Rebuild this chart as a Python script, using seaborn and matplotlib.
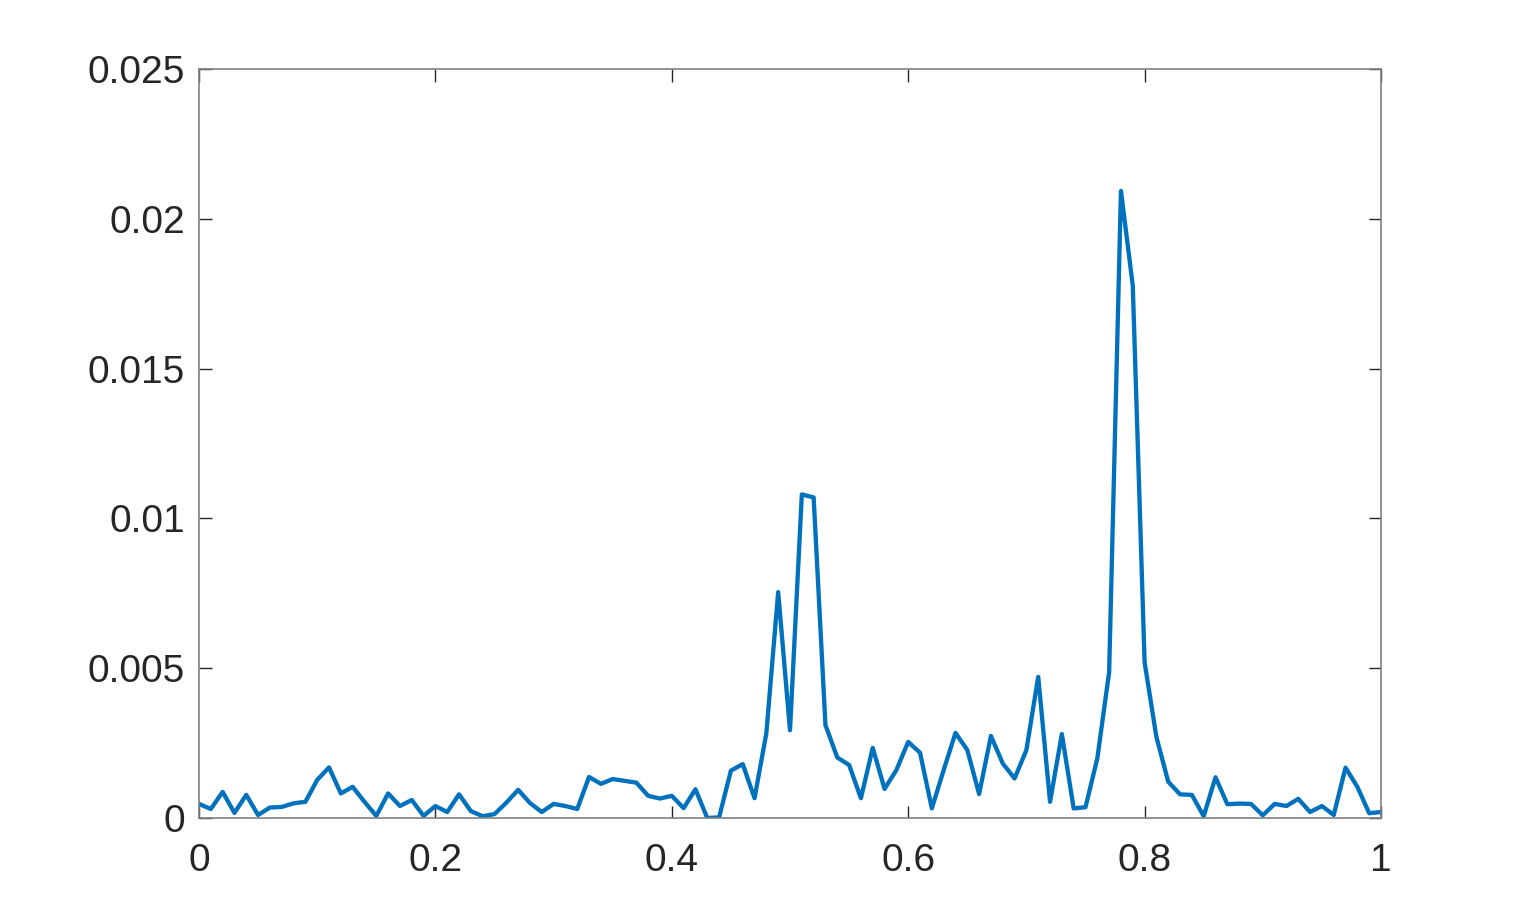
import numpy as np
import pandas as pd
import matplotlib
matplotlib.use("Agg")
import matplotlib.pyplot as plt
import seaborn as sns

x_vals = [round(i * 0.01, 2) for i in range(101)]
y_vals = [
    0.00047, 0.00030, 0.00087, 0.00017, 0.00077, 0.00010, 0.00035, 0.00037, 0.00049, 0.00054,
    0.00127, 0.00169, 0.00082, 0.00104, 0.00054, 0.00007, 0.00082, 0.00040, 0.00060, 0.00007,
    0.00040, 0.00020, 0.00079, 0.00023, 0.00006, 0.00013, 0.00051, 0.00094, 0.00050, 0.00020,
    0.00047, 0.00040, 0.00030, 0.00137, 0.00114, 0.00130, 0.00124, 0.00118, 0.00074, 0.00065,
    0.00074, 0.00033, 0.00096, 0.00000, 0.00002, 0.00158, 0.00180, 0.00066, 0.00283, 0.00754,
    0.00293, 0.01080, 0.01070, 0.00310, 0.00202, 0.00177, 0.00066, 0.00234, 0.00097, 0.00160,
    0.00254, 0.00218, 0.00032, 0.00160, 0.00284, 0.00227, 0.00080, 0.00274, 0.00182, 0.00132,
    0.00227, 0.00471, 0.00054, 0.00280, 0.00032, 0.00036, 0.00199, 0.00487, 0.02093, 0.01777,
    0.00520, 0.00270, 0.00121, 0.00079, 0.00077, 0.00006, 0.00136, 0.00046, 0.00048, 0.00047,
    0.00009, 0.00047, 0.00040, 0.00064, 0.00020, 0.00040, 0.00010, 0.00168, 0.00104, 0.00016,
    0.00020,
]
x_ticks = [0, 0.2, 0.4, 0.6, 0.8, 1]
x_tick_labels = ["0", "0.2", "0.4", "0.6", "0.8", "1"]
y_ticks = [0, 0.005, 0.01, 0.015, 0.02, 0.025]
y_tick_labels = ["0", "0.005", "0.01", "0.015", "0.02", "0.025"]

df = pd.DataFrame({"x": x_vals, "y": y_vals})

sns.set_style("white")
plt.rcParams['font.family'] = ['Liberation Sans', 'DejaVu Sans']

fig = plt.figure(figsize=(15.27, 9.19), dpi=100)
ax = fig.add_axes([199/1527, 101/919, (1381-199)/1527, (818-69)/919])
sns.lineplot(data=df, x="x", y="y", ax=ax, color="#0072BD", linewidth=3.1)

ax.set_xlim(0, 1)
ax.set_ylim(0, 0.025)
ax.set_xticks(x_ticks)
ax.set_xticklabels(x_tick_labels)
ax.set_yticks(y_ticks)
ax.set_yticklabels(y_tick_labels)
ax.set_xlabel("")
ax.set_ylabel("")
for s in ax.spines.values():
    s.set_visible(True)
    s.set_color("#808080")
    s.set_linewidth(1.2)
ax.tick_params(direction="in", length=9, width=1, color="#262626",
               labelsize=28, labelcolor="#262626", top=True, right=True,
               bottom=True, left=True)
ax.tick_params(axis="x", pad=18)
ax.tick_params(axis="y", pad=10)

fig.savefig("out.png", dpi=100)
